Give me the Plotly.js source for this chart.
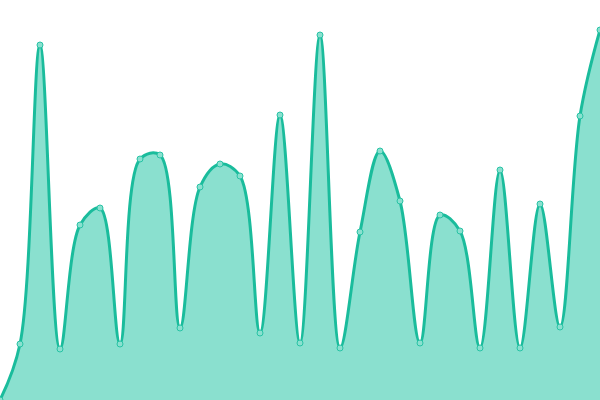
<!DOCTYPE html>
<html>
<head>
<meta charset="utf-8">
<script src="https://cdn.plot.ly/plotly-3.0.1.min.js"></script>
<style>
  html, body { margin: 0; padding: 0; background: #fff; }
  #grafica { width: 600px; height: 400px; }
</style>
</head>
<body>
<div id="grafica"></div>
<script>
// Datos
const posiciones = [0, 20, 40, 60, 80, 100, 120, 140, 160, 180, 200, 220, 240, 260, 280, 300,
                    320, 340, 360, 380, 400, 420, 440, 460, 480, 500, 520, 540, 560, 580, 600];
const valores = [0, 56, 355, 51, 175, 192, 56, 241, 245, 72, 213, 236, 224, 67, 285, 57,
                 365, 52, 168, 249, 199, 57, 185, 169, 52, 230, 52, 196, 73, 284, 370];

// Área suavizada
let serie = {
  x: posiciones,
  y: valores,
  type: 'scatter',
  mode: 'lines+markers',
  fill: 'tozeroy',
  fillcolor: 'rgb(138,224,207)',
  line: { color: 'rgb(26,188,156)', width: 3, shape: 'spline', smoothing: 1 },
  marker: { size: 6, color: 'rgb(138,224,207)', line: { color: 'rgb(40,195,165)', width: 1 } },
  hoverinfo: 'none',
  cliponaxis: true
};

let layout = {
  width: 600,
  height: 400,
  margin: { l: 0, r: 0, t: 0, b: 0 },
  paper_bgcolor: '#fff',
  plot_bgcolor: '#fff',
  showlegend: false,
  xaxis: { range: [0, 600], visible: false, fixedrange: true },
  yaxis: { range: [0, 400], visible: false, fixedrange: true }
};

Plotly.newPlot('grafica', [serie], layout, { displayModeBar: false, staticPlot: true });
</script>
</body>
</html>
